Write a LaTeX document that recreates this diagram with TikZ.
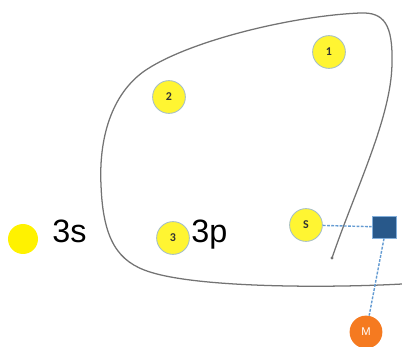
\documentclass[tikz,border=0pt]{standalone}
\usepackage{fontspec}
\setmainfont{Liberation Sans}
\newfontfamily\smallfont{Carlito}
\definecolor{AtomYellow}{RGB}{255, 245, 50}
\definecolor{AtomRim}{RGB}{165, 190, 200}
\definecolor{BoxBlue}{RGB}{40, 88, 138}
\definecolor{MetalOrange}{RGB}{245, 122, 32}
\definecolor{LinkBlue}{RGB}{100, 155, 210}
\definecolor{OutlineGray}{RGB}{115, 115, 115}
\usetikzlibrary{positioning}
\tikzset{
  site/.style={circle, fill=AtomYellow, draw=AtomRim, line width=0.6pt, minimum size=8.2mm, inner sep=0pt, font=\smallfont\fontsize{8.5}{9}\selectfont\bfseries, text=black!80},
  orbital/.style={anchor=base west, inner sep=0pt, font=\fontsize{23}{27}\selectfont},
  link/.style={LinkBlue, line width=1pt, dash pattern=on 2pt off 1pt}
}

\begin{document}
\begin{tikzpicture}[x=0.25mm, y=-0.25mm]
  \useasboundingbox (0,0) rectangle (402,347);

  % Outline of the cluster
  \draw[OutlineGray, line width=0.9pt]
    (332,258) .. controls (356,188) and (391,118) .. (392,64)
    .. controls (393,24) and (384,12) .. (360,13)
    .. controls (290,16) and (185,42) .. (143,72)
    .. controls (108,98) and (99,145) .. (101,185)
    .. controls (103,240) and (118,262) .. (150,272)
    .. controls (200,288) and (330,288) .. (402,284);
  \fill[OutlineGray] (332,258) circle (1.6);

  % Sites
  \node[site] (s1) at (329,52) {1};
  \node[site] (s2) at (169,97) {2};
  \node[site] (s3) at (173,238) {3};
  \node[site] (sS) at (306,225) {S};

  % Legend dot and orbital labels
  \node[circle, fill=yellow, minimum size=7.5mm, inner sep=0pt] (dot3s) at (23,239) {};
  \node[orbital] (lbl3s) at (52,243) {3s};
  \node[orbital] (lbl3p) at (191,243) {3p};

  % Box and metal
  \node[fill=BoxBlue, draw=LinkBlue!80, line width=0.4pt, minimum width=6mm, minimum height=5.6mm, inner sep=0pt] (box) at (384,227) {};
  \node[circle, fill=MetalOrange, minimum size=8.2mm, inner sep=0pt, text=white, font=\fontsize{8}{9}\selectfont] (metal) at (366,332) {M};

  % Links
  \draw[link] (sS) -- (box);
  \draw[link] (box.south) -- (metal);
\end{tikzpicture}
\end{document}
